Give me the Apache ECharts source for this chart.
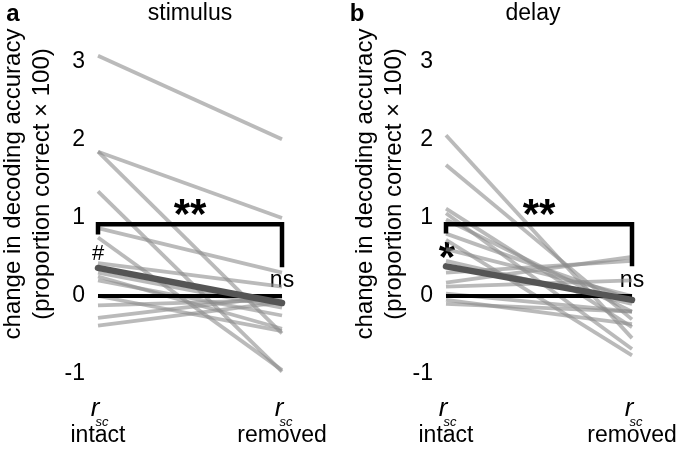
<!DOCTYPE html>
<html><head><meta charset="utf-8">
<script src="https://cdn.jsdelivr.net/npm/echarts@6/dist/echarts.min.js"></script>
<style>html,body{margin:0;padding:0;background:#fff}#c{width:677px;height:449px}</style>
</head><body><div id="c"></div>
<script>
const conditions = ['intact', 'removed'];
const yTicks = [-1, 0, 1, 2, 3];
const panelTitles = ['stimulus', 'delay'];
const stimIntact  = [3.08, 1.85, 1.85, 1.34, 0.87, 0.75, 0.42, 0.30, 0.25, 0.20, 0.00, -0.12, -0.28, -0.38];
const stimRemoved = [2.01, 1.00, -0.48, -0.97, 0.30, -0.95, 0.12, -0.15, -0.42, -0.25, -0.45, -0.05, 0.00, -0.08];
const stimMean = [0.36, -0.09];
const delayIntact  = [2.06, 1.68, 1.12, 1.06, 0.98, 0.80, 0.72, 0.60, 0.45, 0.30, 0.17, 0.12, 0.03, -0.05, -0.10];
const delayRemoved = [-0.54, -0.30, -0.40, -0.68, -0.20, -0.05, -0.76, 0.00, -0.10, 0.45, 0.50, 0.20, -0.20, -0.36, -0.20];
const delayMean = [0.38, -0.05];
const stimBracket = [0.79, 0.92, 0.92, 0.37];
const delayBracket = [0.80, 0.92, 0.92, 0.38];
const zeroLine = [0, 0];
const stimMarks = {pair: '**', left: '#', right: 'ns'};
const delayMarks = {pair: '**', left: '*', right: 'ns'};

const FONT = 'Liberation Sans, Arial, Helvetica, sans-serif';
const chart = echarts.init(document.getElementById('c'), null, {renderer: 'canvas'});

function panelSeries(idx, intact, removed, mean, bracket) {
  const s = [];
  for (let i = 0; i < intact.length; i++) {
    s.push({type: 'line', xAxisIndex: idx, yAxisIndex: idx, data: [[0, intact[i]], [1, removed[i]]],
      symbol: 'none', clip: false, silent: true, z: 2,
      lineStyle: {color: 'rgba(140,140,140,0.6)', width: 3.8}});
  }
  s.push({type: 'line', xAxisIndex: idx, yAxisIndex: idx, data: [[0, zeroLine[0]], [1, zeroLine[1]]],
    symbol: 'none', clip: false, silent: true, z: 3, lineStyle: {color: '#000', width: 4, cap: 'butt'}});
  s.push({type: 'line', xAxisIndex: idx, yAxisIndex: idx, data: [[0, mean[0]], [1, mean[1]]],
    symbol: 'none', clip: false, silent: true, z: 4, lineStyle: {color: '#555', width: 6.5, cap: 'round'}});
  s.push({type: 'line', xAxisIndex: idx, yAxisIndex: idx,
    data: [[0, bracket[0]], [0, bracket[1]], [1, bracket[2]], [1, bracket[3]]],
    symbol: 'none', clip: false, silent: true, z: 5, lineStyle: {color: '#000', width: 4.5, join: 'miter', cap: 'butt'}});
  return s;
}

const grids = [
  {left: 98, width: 184, top: 62, height: 312},
  {left: 446, width: 186, top: 62, height: 312}
];

const xAxes = grids.map((g, i) => ({type: 'value', gridIndex: i, min: 0, max: 1, show: false}));
const yAxes = grids.map((g, i) => ({type: 'value', gridIndex: i, min: yTicks[0], max: yTicks[yTicks.length - 1], interval: 1,
  axisLine: {show: false}, axisTick: {show: false}, splitLine: {show: false},
  axisLabel: {color: '#000', fontSize: 23, fontFamily: FONT, margin: 13}}));

function txt(x, y, text, size, extra) {
  return Object.assign({type: 'text', x: x, y: y, silent: true,
    style: Object.assign({text: text, fill: '#000', font: size + 'px ' + FONT, align: 'center', verticalAlign: 'middle'}, extra || {})});
}

const graphics = [];
function panelText(cx0, cx1, title, titleX, letter, letterX, marks, ylx) {
  graphics.push(txt(letterX, 14, letter, 24, {font: 'bold 24px ' + FONT}));
  graphics.push(txt(titleX, 14, title, 23));
  graphics.push(txt((cx0 + cx1) / 2, 216, marks.pair, 42, {font: 'bold 42px ' + FONT}));
  if (marks.left === '*') graphics.push(txt(cx0 + 1, 259, marks.left, 42, {font: 'bold 42px ' + FONT}));
  else graphics.push(txt(cx0, 254, marks.left, 22));
  graphics.push(txt(cx1, 281, marks.right, 23));
  [[cx0, conditions[0]], [cx1, conditions[1]]].forEach(([x, lab]) => {
    graphics.push(txt(x - 3, 409, 'r', 26, {font: 'italic 26px ' + FONT}));
    graphics.push(txt(x + 4, 422, 'sc', 13, {font: 'italic 13px ' + FONT}));
    graphics.push(txt(x, 436, lab, 23));
  });
  graphics.push({type: 'text', x: ylx, y: 184, rotation: Math.PI / 2, silent: true,
    style: {text: 'change in decoding accuracy', fill: '#000', font: '24px ' + FONT, align: 'center', verticalAlign: 'middle'}});
  graphics.push({type: 'text', x: ylx + 29, y: 184, rotation: Math.PI / 2, silent: true,
    style: {text: '(proportion correct \u00d7 100)', fill: '#000', font: '24px ' + FONT, align: 'center', verticalAlign: 'middle'}});
}
panelText(98, 282, panelTitles[0], 190, 'a', 13, stimMarks, 13);
panelText(446, 632, panelTitles[1], 533, 'b', 357, delayMarks, 365);

chart.setOption({
  animation: false,
  backgroundColor: '#fff',
  grid: grids,
  xAxis: xAxes,
  yAxis: yAxes,
  series: panelSeries(0, stimIntact, stimRemoved, stimMean, stimBracket)
    .concat(panelSeries(1, delayIntact, delayRemoved, delayMean, delayBracket)),
  graphic: graphics
});
</script></body></html>
